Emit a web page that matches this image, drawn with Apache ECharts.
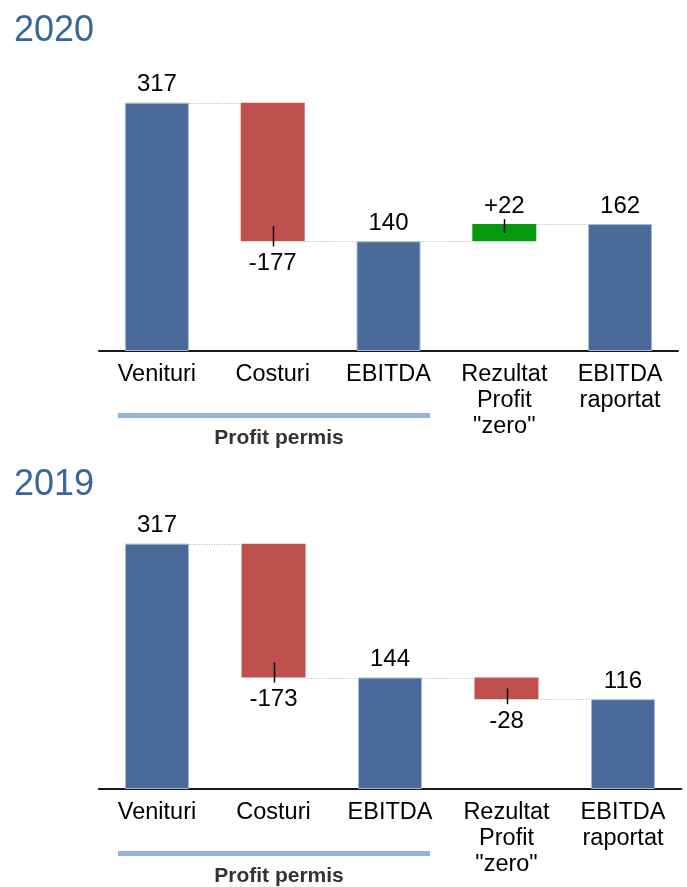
<!DOCTYPE html>
<html><head><meta charset="utf-8">
<script src="https://cdn.jsdelivr.net/npm/echarts@6/dist/echarts.min.js"></script>
<style>html,body{margin:0;padding:0;background:#fff}#c{width:687px;height:887px}</style>
</head><body><div id="c"></div>
<script>
// ---- data ----
const categories = ['Venituri', 'Costuri', 'EBITDA', 'Rezultat\nProfit\n"zero"', 'EBITDA\nraportat'];
const kinds = ['total', 'delta', 'total', 'delta', 'total'];
const years = ['2020', '2019'];
const values2020 = [317, -177, 140, 22, 162];
const values2019 = [317, -173, 144, -28, 116];
const groupLabel = 'Profit permis';

// ---- style / layout ----
const FONT = "'Liberation Sans', Arial, sans-serif";
const BLUE = '#4A6A9A', RED = '#C0504D', GREEN = '#079A0F';
const BAR_W = 64;
const Y_MAX = 350;
const panels = [
  { values: values2020, axisY: 351, k: 0.7833, left: 99, width: 579, titleTop: 13 },
  { values: values2019, axisY: 789, k: 0.774, left: 98.75, width: 582.5, titleTop: 467 }
];

const chart = echarts.init(document.getElementById('c'));
const grids = [], xAxes = [], yAxes = [], series = [], titles = [], graphics = [];

panels.forEach((p, gi) => {
  const h = Y_MAX * p.k;
  grids.push({ left: p.left, width: p.width, top: p.axisY - h, height: h });
  xAxes.push({
    type: 'category', gridIndex: gi, data: categories,
    axisLine: { lineStyle: { color: '#1a1a1a', width: 2 } },
    axisTick: { show: false },
    axisLabel: { interval: 0, color: '#000', fontFamily: FONT, fontSize: 23.5, lineHeight: 26, margin: 11 }
  });
  yAxes.push({ type: 'value', gridIndex: gi, min: 0, max: Y_MAX, show: false, splitLine: { show: false } });
  titles.push({ text: years[gi], left: 14, top: p.titleTop, padding: 0,
    textStyle: { color: '#3C6699', fontFamily: FONT, fontSize: 36, fontWeight: 'normal' } });

  let level = 0;
  const base = [], vis = [], connectors = [], ticks = [];
  p.values.forEach((v, i) => {
    if (kinds[i] === 'total') {
      base.push(0);
      vis.push({ value: v, itemStyle: { color: BLUE, borderColor: '#A7B8D0', borderWidth: 1 },
        label: { position: 'top', formatter: String(v) } });
      level = v;
    } else {
      const end = level + v;
      base.push(Math.min(level, end));
      vis.push({ value: Math.abs(v), itemStyle: { color: v < 0 ? RED : GREEN },
        label: v < 0 ? { position: 'bottom', distance: 10, formatter: String(v) }
                     : { position: 'top', formatter: '+' + v } });
      ticks.push([i, end, level]);
      level = end;
    }
    if (i < p.values.length - 1) connectors.push([i, level]);
  });

  series.push({ type: 'bar', xAxisIndex: gi, yAxisIndex: gi, stack: 's' + gi, barWidth: BAR_W,
    data: base, itemStyle: { color: 'transparent' }, silent: true });
  series.push({ type: 'bar', xAxisIndex: gi, yAxisIndex: gi, stack: 's' + gi, barWidth: BAR_W,
    data: vis, label: { show: true, distance: 6, color: '#000', fontFamily: FONT, fontSize: 24 } });
  series.push({ type: 'custom', xAxisIndex: gi, yAxisIndex: gi, z: 5, data: connectors,
    renderItem: (params, api) => {
      const i = api.value(0), lv = api.value(1);
      const p1 = api.coord([i, lv]), p2 = api.coord([i + 1, lv]);
      const y = Math.round(p1[1]) + 0.5;
      return { type: 'line', shape: { x1: p1[0] + BAR_W / 2, y1: y, x2: p2[0] - BAR_W / 2, y2: y },
        style: { stroke: '#B4B4B4', lineWidth: 1, lineDash: [1, 1.5] } };
    } });
  series.push({ type: 'custom', xAxisIndex: gi, yAxisIndex: gi, z: 10, data: ticks,
    renderItem: (params, api) => {
      const i = api.value(0), end = api.value(1), start = api.value(2);
      const pe = api.coord([i, end]), ps = api.coord([i, start]);
      const hh = Math.abs(ps[1] - pe[1]);
      const dir = ps[1] > pe[1] ? 1 : -1;
      const inside = Math.min(15, hh * 0.5), outside = 5;
      const x = Math.round(pe[0]) + 0.5;
      return { type: 'line', shape: { x1: x, y1: pe[1] - dir * outside, x2: x, y2: pe[1] + dir * inside },
        style: { stroke: '#000', lineWidth: 1.5 } };
    } });

  // group line + label below first categories
  graphics.push({ type: 'rect', shape: { x: 118, y: p.axisY + 62, width: 312, height: 5 },
    style: { fill: '#95B3D7' } });
  graphics.push({ type: 'text', x: 279, y: p.axisY + 98,
    style: { text: groupLabel, font: 'bold 21px ' + FONT, fill: '#333', align: 'center', verticalAlign: 'bottom' } });
});

chart.setOption({
  animation: false,
  title: titles,
  grid: grids,
  xAxis: xAxes,
  yAxis: yAxes,
  series: series,
  graphic: graphics
});
</script></body></html>
